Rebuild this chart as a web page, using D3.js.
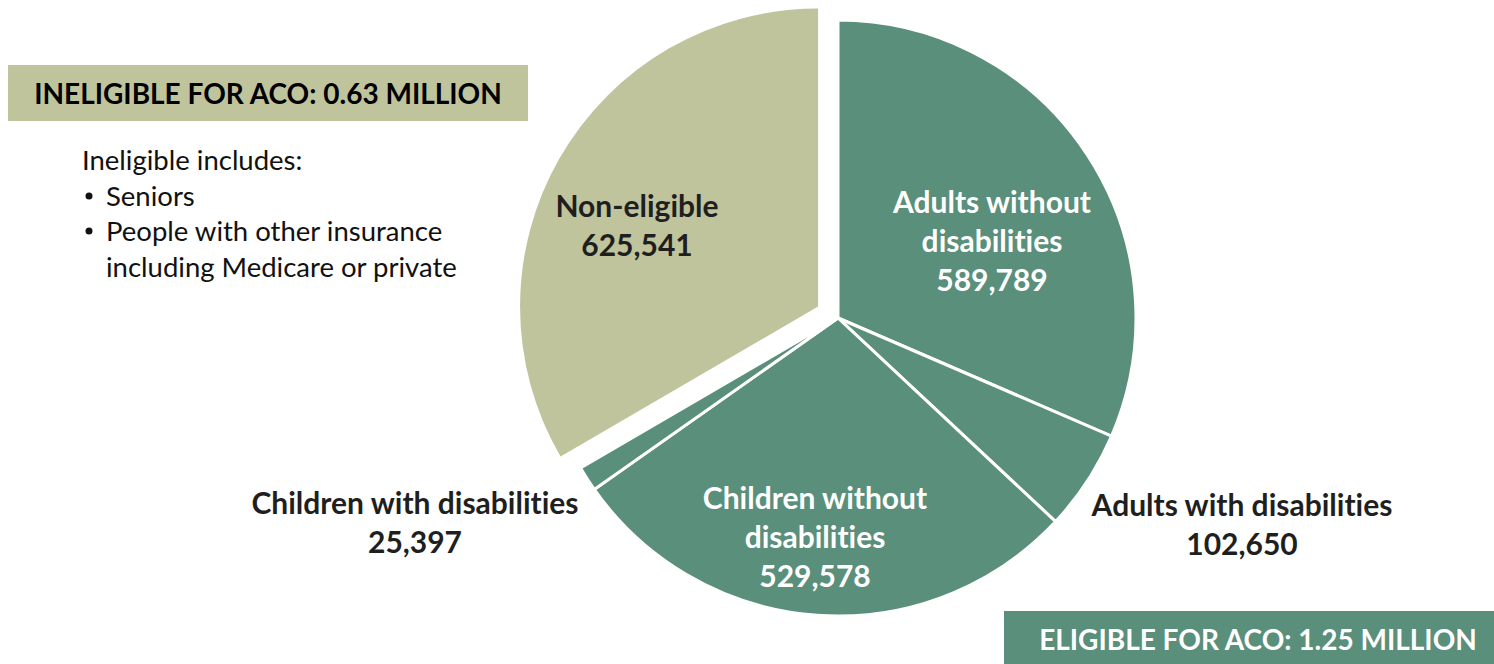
<!DOCTYPE html>
<html>
<head>
<meta charset="utf-8">
<script src="https://cdn.jsdelivr.net/npm/d3@7"></script>
<style>
  html, body { margin: 0; padding: 0; background: #fff; }
  svg { display: block; font-family: Lato, "Open Sans", sans-serif; font-variant-ligatures: none; font-feature-settings: "liga" 0, "clig" 0; }
</style>
</head>
<body>
<svg id="chart" width="1494" height="664"></svg>
<script>
// ---- Data ----
const categories = ["Adults without disabilities", "Adults with disabilities", "Children without disabilities", "Children with disabilities", "Non-eligible"];
const values = [589789, 102650, 529578, 25397, 625541];
const eligible = [true, true, true, true, false];
const labelLines = [
  ["Adults without", "disabilities", "589,789"],
  ["Adults with disabilities", "102,650"],
  ["Children without", "disabilities", "529,578"],
  ["Children with disabilities", "25,397"],
  ["Non-eligible", "625,541"]
];
const boxTexts = ["INELIGIBLE FOR ACO: 0.63 MILLION", "ELIGIBLE FOR ACO: 1.25 MILLION"];
const noteLines = ["Ineligible includes:", "Seniors", "People with other insurance", "including Medicare or private"];

// ---- Layout ----
const W = 1494, H = 664;
const cx = 838, cy = 318, R = 298, explode = 23;
const green = "#5a8f7b", tan = "#bfc49d", dark = "#1f1f1f";

const svg = d3.select("#chart");
const data = categories.map((c, i) => ({ name: c, value: values[i], eligible: eligible[i], lines: labelLines[i] }));

const pie = d3.pie().value(d => d.value).sort(null);
const arcs = pie(data);
const arc = d3.arc().innerRadius(0).outerRadius(R);

const g = svg.append("g").attr("transform", `translate(${cx},${cy})`);
g.selectAll("path").data(arcs).join("path")
  .attr("d", arc)
  .attr("transform", d => {
    if (d.data.eligible) return null;
    const a = (d.startAngle + d.endAngle) / 2;
    return `translate(${Math.sin(a) * explode},${-Math.cos(a) * explode})`;
  })
  .attr("fill", d => d.data.eligible ? green : tan)
  .attr("stroke", d => d.data.eligible ? "#fff" : "none")
  .attr("stroke-width", 3)
  .attr("stroke-linejoin", "miter");

// ---- Slice labels ----
// label block centre (relative to pie centre), and colour
const labelPos = [
  { x: 154, y: -77, fill: "#fff" },
  { x: 404, y: 207, fill: dark },
  { x: -23, y: 219, fill: "#fff" },
  { x: -423, y: 205, fill: dark },
  { x: -201, y: -92, fill: dark }
];
const lineH = 39;
data.forEach((d, i) => {
  const p = labelPos[i];
  const n = d.lines.length;
  const t = g.append("text")
    .attr("text-anchor", "middle")
    .attr("font-weight", 700)
    .attr("font-size", 30)
    .attr("fill", p.fill);
  d.lines.forEach((ln, k) => {
    t.append("tspan")
      .attr("x", p.x)
      .attr("y", p.y + (k - (n - 1) / 2) * lineH)
      .attr("dy", "0.35em")
      .text(ln);
  });
});

// ---- Boxes ----
svg.append("rect").attr("x", 8).attr("y", 65).attr("width", 520).attr("height", 56).attr("fill", tan);
svg.append("text").attr("x", 268).attr("y", 94).attr("dy", "0.36em")
  .attr("text-anchor", "middle").attr("font-weight", 700).attr("font-size", 28)
  .attr("fill", "#000").text(boxTexts[0]);

svg.append("rect").attr("x", 1004).attr("y", 611).attr("width", 490).attr("height", 53).attr("fill", green);
svg.append("text").attr("x", 1258).attr("y", 640).attr("dy", "0.36em")
  .attr("text-anchor", "middle").attr("font-weight", 700).attr("font-size", 28)
  .attr("fill", "#fff").text(boxTexts[1]);

// ---- Note ----
const note = svg.append("g").attr("font-size", 27.5).attr("fill", "#111");
note.append("text").attr("x", 82).attr("y", 160).attr("dy", "0.35em").text(noteLines[0]);
note.append("circle").attr("cx", 89).attr("cy", 196).attr("r", 3.5).attr("fill", "#111");
note.append("text").attr("x", 106).attr("y", 196).attr("dy", "0.35em").text(noteLines[1]);
note.append("circle").attr("cx", 89).attr("cy", 231).attr("r", 3.5).attr("fill", "#111");
note.append("text").attr("x", 106).attr("y", 231).attr("dy", "0.35em").text(noteLines[2]);
note.append("text").attr("x", 106).attr("y", 267).attr("dy", "0.35em").text(noteLines[3]);
</script>
</body>
</html>
